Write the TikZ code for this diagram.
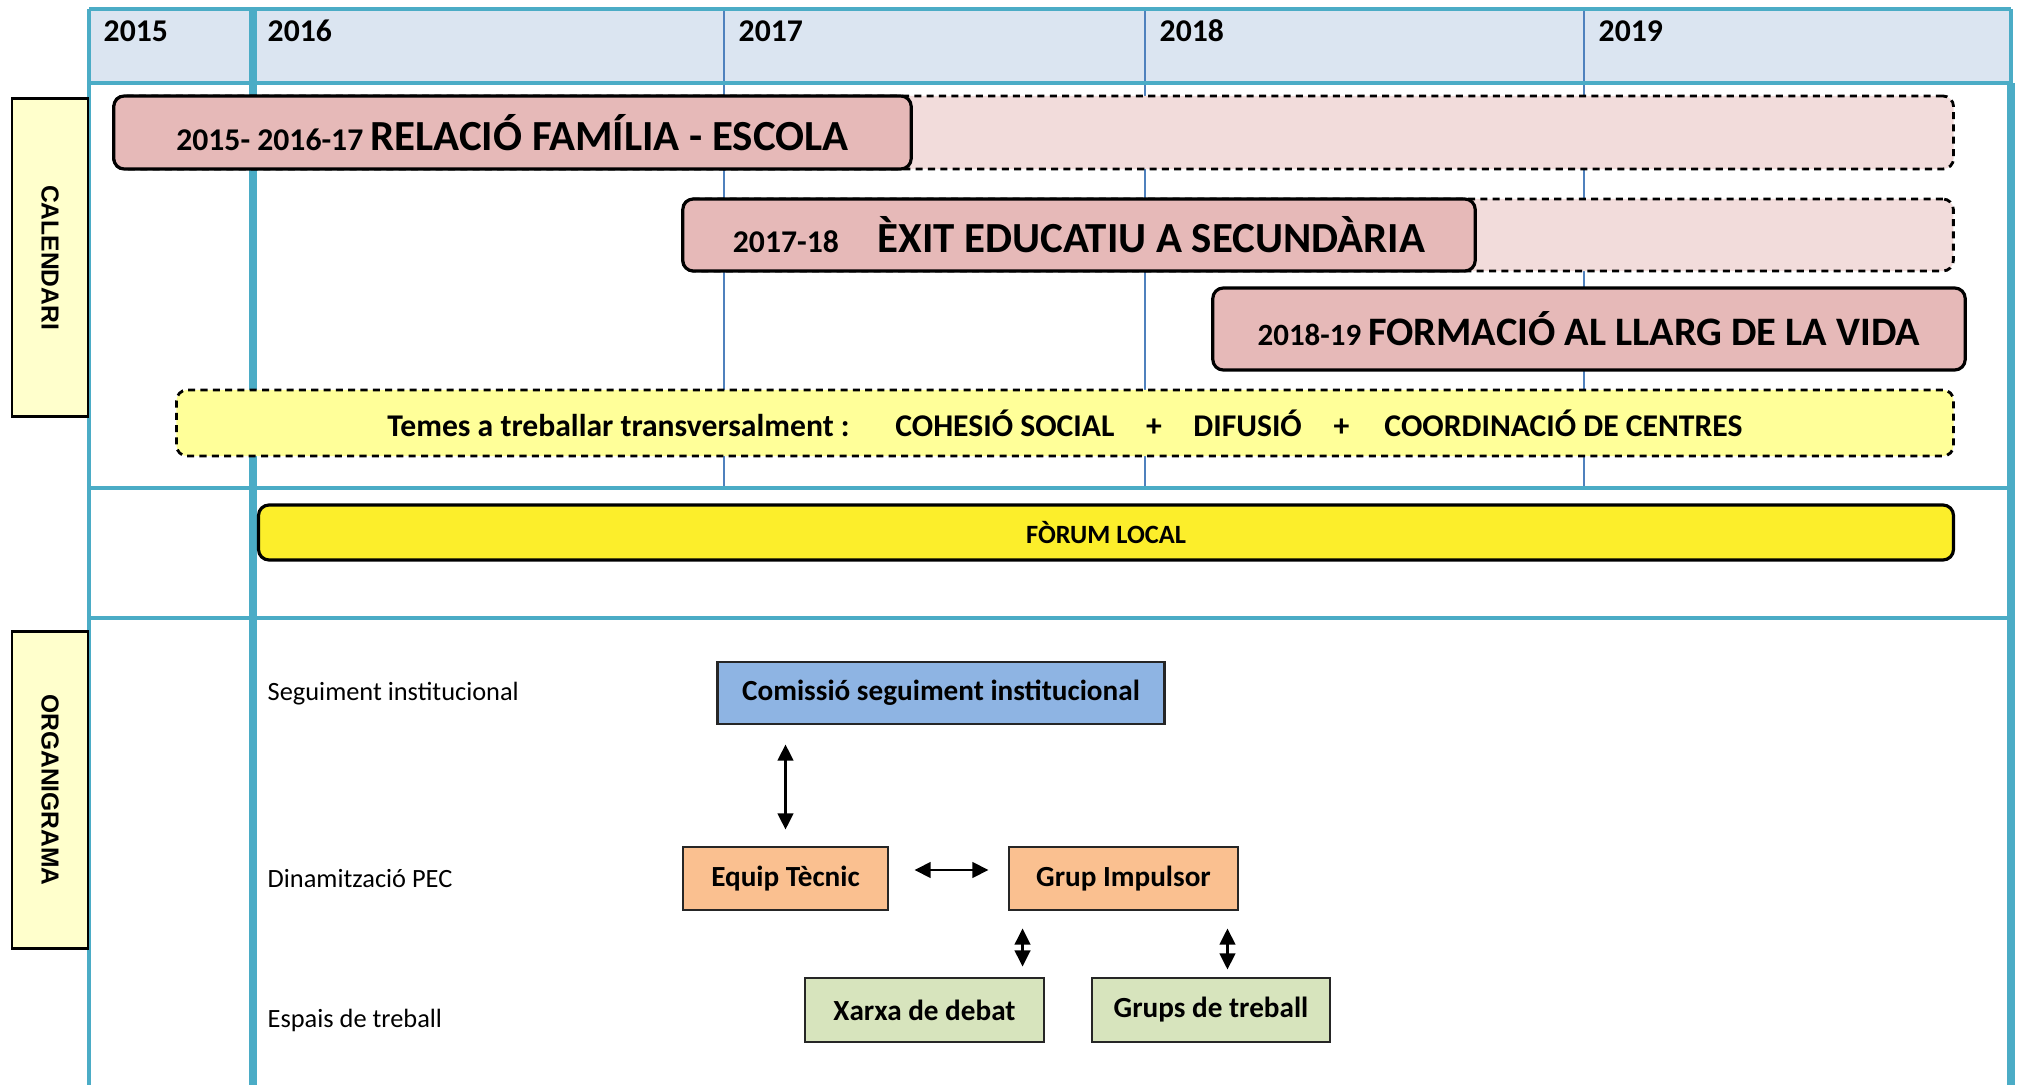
\documentclass[tikz,border=0pt]{standalone}
\usepackage{fontspec}
\setmainfont{Carlito}
\newfontfamily\sidefont{Liberation Sans}
\usepackage{xcolor}
\usetikzlibrary{arrows.meta}

\definecolor{gridteal}{HTML}{4BACC6}
\definecolor{gridblue}{HTML}{4F81BD}
\definecolor{headfill}{HTML}{DBE5F1}
\definecolor{barpink}{HTML}{E6B9B8}
\definecolor{barghost}{HTML}{F2DCDB}
\definecolor{temesfill}{HTML}{FFFF99}
\definecolor{forumfill}{HTML}{FCEE2B}
\definecolor{sidefill}{HTML}{FFFFCC}
\definecolor{comfill}{HTML}{8EB4E3}
\definecolor{orangefill}{HTML}{FAC090}
\definecolor{greenfill}{HTML}{D7E4BD}

\begin{document}
\begin{tikzpicture}[x=0.01cm,y=-0.01cm,
  gridline/.style={draw=gridteal,line width=1.2pt},
  thickline/.style={draw=gridteal,line width=2.2pt},
  thinline/.style={draw=gridblue,line width=0.6pt},
  yearlbl/.style={anchor=west,inner sep=0pt,font=\bfseries\fontsize{9}{10}\selectfont},
  sidelbl/.style={draw,line width=0.8pt,fill=sidefill,rotate=-90,minimum width=3.17cm,minimum height=0.76cm,inner sep=0pt,font=\sidefont\bfseries\fontsize{7}{8}\selectfont},
  taskbar/.style={draw,line width=0.9pt,rounded corners=3pt,fill=barpink,inner sep=0pt,font=\bfseries},
  ghostbar/.style={draw,dash pattern=on 2pt off 1.5pt,line width=0.8pt,rounded corners=3pt,fill=barghost,inner sep=0pt},
  orgbox/.style={draw=black!85,line width=0.8pt,inner sep=0pt,font=\bfseries\fontsize{8.3}{10}\selectfont},
  orglbl/.style={anchor=west,inner sep=0pt,font=\fontsize{7.5}{9}\selectfont},
  biarrow/.style={{Triangle[length=4.6pt,width=4.4pt]}-{Triangle[length=4.6pt,width=4.4pt]},line width=0.8pt}]
  \useasboundingbox (0,0) rectangle (2024,1085);
  \fill[headfill] (89,9) rectangle (2011,83);
  \foreach \xx in {724,1145,1584}
    \draw[thinline] (\xx,9) -- (\xx,488);
  \draw[gridline] (89,9) -- (2011,9) (89,83) -- (2011,83) (89,488) -- (2011,488) (89,618) -- (2011,618);
  \draw[gridline] (89,9) -- (89,1085) (2011,9) -- (2011,83);
  \draw[thickline] (2011,83) -- (2011,1085) (253,9) -- (253,1085);
  \foreach \xx/\yr in {103/2015,267/2016,738/2017,1159/2018,1598/2019}
    \node[yearlbl] (y\yr) at (\xx,31) {\yr};

  \node[sidelbl] (calendari) at (50,257.5) {CALENDARI};
  \node[sidelbl] (organigrama) at (50,790) {ORGANIGRAMA};

  \node[ghostbar,minimum width=18.39cm,minimum height=0.73cm] (relacioext) at (1033.5,132.5) {};
  \node[taskbar,minimum width=7.97cm,minimum height=0.73cm] (relacio) at (512.5,132.5)
    {\fontsize{9}{11}\selectfont 2015- 2016-17 \fontsize{12.2}{14}\selectfont RELACIÓ FAMÍLIA - ESCOLA};
  \node[ghostbar,minimum width=12.70cm,minimum height=0.72cm] (exitext) at (1318,235) {};
  \node[taskbar,minimum width=7.92cm,minimum height=0.72cm] (exit) at (1079,235)
    {\fontsize{9}{11}\selectfont 2017-18\hspace{11pt}\fontsize{12.2}{14}\selectfont ÈXIT EDUCATIU A SECUNDÀRIA};
  \node[taskbar,minimum width=7.52cm,minimum height=0.82cm] (formacio) at (1589,329)
    {\fontsize{8.8}{11}\selectfont 2018-19 \fontsize{11.5}{14}\selectfont FORMACIÓ AL LLARG DE LA VIDA};
  \node[ghostbar,fill=temesfill,minimum width=17.76cm,minimum height=0.66cm,font=\bfseries\fontsize{9}{11}\selectfont] (temes) at (1065,423)
    {Temes a treballar transversalment :\hspace{13pt}COHESIÓ SOCIAL\hspace{9pt}+\hspace{9pt}DIFUSIÓ\hspace{9pt}+\hspace{10pt}COORDINACIÓ DE CENTRES};
  \node[taskbar,fill=forumfill,minimum width=16.94cm,minimum height=0.55cm,font=\bfseries\fontsize{7.5}{9}\selectfont] (forum) at (1106,532.5) {FÒRUM LOCAL};

  \node[orglbl] (lblseg) at (267,694) {Seguiment institucional};
  \node[orglbl] (lbldin) at (267,879) {Dinamització PEC};
  \node[orglbl] (lblesp) at (267,1020) {Espais de treball};

  \node[orgbox,fill=comfill,minimum width=4.46cm,minimum height=0.62cm] (comissio) at (941,693) {Comissió seguiment institucional};
  \node[orgbox,fill=orangefill,minimum width=2.05cm,minimum height=0.63cm] (equip) at (785.5,878.5) {Equip Tècnic};
  \node[orgbox,fill=orangefill,minimum width=2.29cm,minimum height=0.63cm] (impulsor) at (1123.5,878.5) {Grup Impulsor};
  \node[orgbox,fill=greenfill,minimum width=2.39cm,minimum height=0.64cm] (xarxa) at (924.5,1010) {Xarxa de debat};
  \node[orgbox,fill=greenfill,minimum width=2.38cm,minimum height=0.64cm] (grups) at (1211,1010) {Grups de treball};

  \coordinate (xarxatop) at ([xshift=0.15cm]impulsor.south west);
  \coordinate (grupstop) at ([xshift=-0.12cm]impulsor.south east);
  \draw[biarrow,shorten <=0.19cm,shorten >=0.16cm] (equip.north |- comissio.south) -- (equip.north);
  \draw[biarrow,shorten <=0.25cm,shorten >=0.19cm] ([yshift=0.085cm]equip.east) -- ([yshift=0.085cm]impulsor.west);
  \draw[biarrow,shorten <=0.17cm,shorten >=0.10cm] (xarxatop) -- (xarxatop |- xarxa.north);
  \draw[biarrow,shorten <=0.17cm,shorten >=0.07cm] (grupstop) -- (grupstop |- grups.north);
\end{tikzpicture}
\end{document}
